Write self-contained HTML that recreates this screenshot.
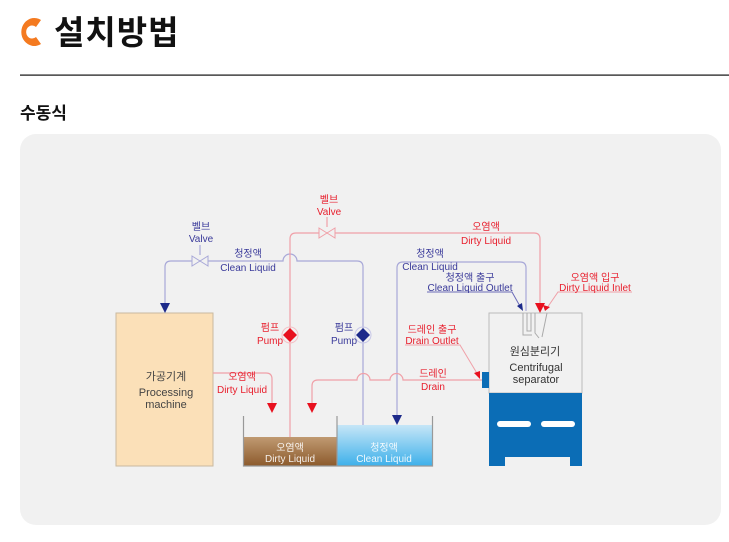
<!DOCTYPE html>
<html><head><meta charset="utf-8"><style>
body{margin:0;background:#fff;width:729px;height:537px;overflow:hidden;font-family:"Liberation Sans","Noto Sans CJK KR",sans-serif}
</style></head><body>
<svg width="729" height="537" viewBox="0 0 729 537" xmlns="http://www.w3.org/2000/svg" font-family="Liberation Sans, Noto Sans CJK KR, sans-serif">
<defs>
<linearGradient id="dg" x1="0" y1="0" x2="0" y2="1"><stop offset="0" stop-color="#c09a72"/><stop offset="1" stop-color="#8c5a2c"/></linearGradient>
<linearGradient id="cg" x1="0" y1="0" x2="0" y2="1"><stop offset="0" stop-color="#c6e6f7"/><stop offset="1" stop-color="#3db0ea"/></linearGradient>
</defs>
<path d="M41 20 A13 14 0 1 0 41 44 L36 37 A6 6.5 0 1 1 36 27 Z" fill="#f47a20"/>
<text x="54" y="44" font-size="33" font-weight="bold" fill="#111" letter-spacing="1">설치방법</text>
<rect x="20" y="74.5" width="709" height="1.2" fill="#111"/>
<text x="20" y="119" font-size="17" font-weight="bold" fill="#111">수동식</text>
<rect x="20" y="134" width="701" height="391" rx="16" fill="#f1f1f1"/>

<rect x="116" y="313" width="97" height="153" fill="#fbe0b8" stroke="#c9b9a0"/>
<g font-size="11" fill="#444" text-anchor="middle">
<text x="166" y="380">가공기계</text><text x="166" y="396">Processing</text><text x="166" y="408">machine</text></g>

<rect x="244" y="437" width="93" height="29" fill="url(#dg)"/>
<rect x="337" y="425" width="95" height="41" fill="url(#cg)"/>
<path d="M243.5 416 V466 H432.5 V416 M337 416 V466" fill="none" stroke="#999" stroke-width="1.2"/>
<g font-size="10" fill="#fff" text-anchor="middle" opacity="0.9">
<text x="290" y="451">오염액</text><text x="290" y="462">Dirty Liquid</text>
<text x="384" y="451">청정액</text><text x="384" y="462">Clean Liquid</text></g>

<rect x="489" y="313" width="93" height="80" fill="#f1f1f1" stroke="#bbb"/>
<rect x="489" y="393" width="93" height="64" fill="#0b6db6"/>
<rect x="489" y="455" width="16" height="11" fill="#0b6db6"/><rect x="570" y="455" width="12" height="11" fill="#0b6db6"/>
<rect x="497" y="421" width="34" height="6" rx="3" fill="#fff"/><rect x="541" y="421" width="34" height="6" rx="3" fill="#fff"/>
<rect x="482" y="372" width="7" height="16" fill="#0b6db6"/>
<path d="M523 313 V335 H532 M527 313 V331 H531 V313 M535 313 V333 L539 338 M547 313 L542 337" fill="none" stroke="#aaa"/>
<g font-size="11" fill="#333" text-anchor="middle">
<text x="535" y="355">원심분리기</text><text x="536" y="371">Centrifugal</text><text x="536" y="383">separator</text></g>

<g fill="none" stroke="#a8a8d8" stroke-width="1.2">
<path d="M165 308 V267 Q165 261 171 261 H283 A7 7 0 0 1 297 261 H357 Q363 261 363 267 V425"/>
<path d="M397 420 V268 Q397 262 403 262 H520 Q526 262 526 268 V311"/>
<path d="M200 245 V255"/>
</g>
<path d="M192 256 L208 266 V256 L192 266 Z" fill="#f1f1f1" stroke="#a8a8d8"/>
<g fill="#1d2a8a"><path d="M160 303 H170 L165 313 Z"/><path d="M392 415 H402 L397 425 Z"/>
<path d="M363 328 L370 335 L363 342 L356 335 Z"/></g>
<circle cx="363" cy="335" r="8" fill="none" stroke="#c8c8e8"/>

<g fill="none" stroke="#f0a0a8" stroke-width="1.2">
<path d="M290 437 V239 Q290 233 296 233 H534 Q540 233 540 239 V305"/>
<path d="M213 373 H266 Q272 373 272 379 V405"/>
<path d="M482 380 H403 A6.5 6.5 0 0 0 390 380 H370 A6.5 6.5 0 0 0 357 380 H318 Q312 380 312 386 V405"/>
<path d="M327 217 V227"/>
</g>
<path d="M319 228 L335 238 V228 L319 238 Z" fill="#f1f1f1" stroke="#f0a0a8"/>
<g fill="#e8101e"><path d="M535 303 H545 L540 313 Z"/><path d="M267 403 H277 L272 413 Z"/><path d="M307 403 H317 L312 413 Z"/>
<path d="M290 328 L297 335 L290 342 L283 335 Z"/></g>
<circle cx="290" cy="335" r="8" fill="none" stroke="#f5c0c5"/>

<path d="M427 292 H512 L521 308" fill="none" stroke="#6a6ab8"/><path d="M517 306 L523 311 L522 303 Z" fill="#1d2a8a"/>
<path d="M632 292 H558 L547 308" fill="none" stroke="#f0a0a8"/><path d="M543 305 L545 311 L550 307 Z" fill="#e8101e"/>
<path d="M405 345 H460 L478 375" fill="none" stroke="#f0a0a8"/><path d="M474 373 L480 379 L480 371 Z" fill="#e8101e"/>

<g font-size="10" text-anchor="middle" fill="#3a3a9a">
<text x="201" y="230">벨브</text><text x="201" y="242">Valve</text>
<text x="248" y="257">청정액</text><text x="248" y="271">Clean Liquid</text>
<text x="430" y="257">청정액</text><text x="430" y="270">Clean Liquid</text>
<text x="470" y="281">청정액 출구</text><text x="470" y="291">Clean Liquid Outlet</text>
<text x="344" y="331">펌프</text><text x="344" y="344">Pump</text>
</g>
<g font-size="10" text-anchor="middle" fill="#e8202e">
<text x="329" y="203">벨브</text><text x="329" y="215">Valve</text>
<text x="486" y="230">오염액</text><text x="486" y="244">Dirty Liquid</text>
<text x="595" y="281">오염액 입구</text><text x="595" y="291">Dirty Liquid Inlet</text>
<text x="432" y="333">드레인 출구</text><text x="432" y="344">Drain Outlet</text>
<text x="433" y="377">드레인</text><text x="433" y="390">Drain</text>
<text x="270" y="331">펌프</text><text x="270" y="344">Pump</text>
<text x="242" y="380">오염액</text><text x="242" y="393">Dirty Liquid</text>
</g>
</svg>
</body></html>
